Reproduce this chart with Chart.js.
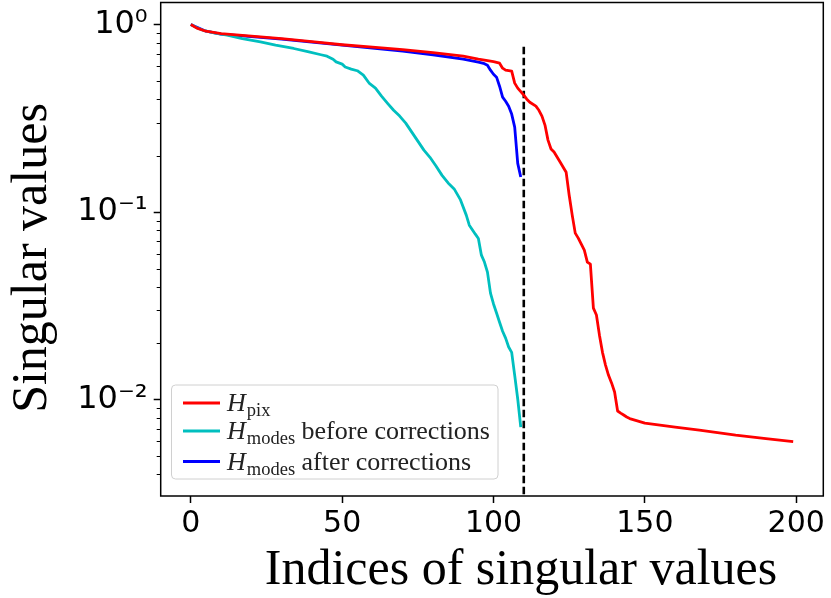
<!DOCTYPE html>
<html>
<head>
<meta charset="utf-8">
<script src="https://cdn.jsdelivr.net/npm/chart.js@4"></script>
<style>
  body { margin: 0; background: #fff; }
  #wrap { width: 831px; height: 598px; }
</style>
</head>
<body>
<div id="wrap"><canvas id="chart" width="831" height="598"></canvas></div>
<script>
// values (index -> singular value)
const pixIdx = [0, 2, 5, 10, 20, 30, 40, 50, 60, 70, 80, 90, 95, 98, 100, 102, 103, 104, 106, 107, 108, 110, 111, 112, 114, 115, 116, 117, 118, 119, 120, 122, 124, 125, 126, 127, 128, 129, 130, 131, 132, 133, 134, 135, 136, 137, 138, 139, 140, 141, 142, 143, 144, 145, 150, 160, 168, 180, 190, 199];
const pixVal = [1.0, 0.956, 0.921, 0.893, 0.866, 0.84, 0.81, 0.78, 0.757, 0.734, 0.708, 0.678, 0.653, 0.641, 0.634, 0.622, 0.585, 0.571, 0.564, 0.487, 0.458, 0.42, 0.4, 0.385, 0.367, 0.349, 0.325, 0.291, 0.242, 0.217, 0.209, 0.185, 0.163, 0.123, 0.0964, 0.0773, 0.0727, 0.0675, 0.0627, 0.0542, 0.0528, 0.0308, 0.0283, 0.0221, 0.0179, 0.0153, 0.0135, 0.0123, 0.011, 0.00871, 0.00849, 0.00829, 0.00809, 0.00794, 0.00751, 0.00715, 0.00689, 0.00648, 0.00621, 0.00599];

const beforeIdx = [0, 2, 4, 8, 12, 17, 23, 28, 34, 39, 43, 45, 47, 48, 50, 51, 53, 55, 57, 59, 61, 63, 65, 67, 69, 71, 73, 75, 77, 79, 81, 83, 85, 87, 89, 91, 92, 94, 95, 96, 97, 98, 99, 100, 101, 102, 103, 104, 105, 106, 107, 108, 109];
const beforeVal = [1.0, 0.961, 0.932, 0.899, 0.877, 0.84, 0.808, 0.776, 0.745, 0.714, 0.69, 0.678, 0.653, 0.632, 0.615, 0.594, 0.578, 0.567, 0.537, 0.485, 0.458, 0.415, 0.38, 0.349, 0.325, 0.298, 0.267, 0.239, 0.214, 0.196, 0.176, 0.157, 0.143, 0.133, 0.117, 0.0964, 0.0852, 0.0763, 0.0724, 0.059, 0.0542, 0.0479, 0.037, 0.0324, 0.029, 0.0259, 0.0232, 0.0213, 0.0191, 0.0179, 0.0135, 0.0101, 0.00715];

const afterIdx = [0, 5, 10, 20, 30, 40, 50, 60, 70, 80, 90, 95, 97, 98, 99, 100, 101, 102, 103, 104, 105, 106, 107, 108, 109];
const afterVal = [1.0, 0.921, 0.888, 0.861, 0.835, 0.805, 0.776, 0.748, 0.721, 0.69, 0.653, 0.63, 0.618, 0.607, 0.571, 0.543, 0.524, 0.469, 0.41, 0.39, 0.367, 0.333, 0.284, 0.182, 0.154];

const cutIndex = 110;
const cutTop = 0.76;

const xTicks = [0, 50, 100, 150, 200];
const yTicks = [1, 0.1, 0.01];
const yTickLabels = ['10⁰', '10⁻¹', '10⁻²'];

const xTitle = 'Indices of singular values';
const yTitle = 'Singular values';

const legendSubs = ['pix', 'modes', 'modes'];
const legendTexts = ['', ' before corrections', ' after corrections'];
const colors = ['#ff0000', '#00bfbf', '#0000ff'];

const toPoints = (xs, ys) => xs.map((x, i) => ({ x, y: ys[i] }));

const line = (data, color) => ({
  data,
  borderColor: color,
  borderWidth: 2.8,
  pointRadius: 0,
  tension: 0,
  borderJoinStyle: 'round',
});

const yMin = 0.00307;
const yMax = 1.31;

// box, minor ticks, axis titles and legend
const extras = {
  id: 'extras',
  afterDraw(chart) {
    const { ctx, chartArea: a } = chart;
    const y = chart.scales.y;
    ctx.save();

    // minor log ticks
    ctx.strokeStyle = '#000';
    ctx.lineWidth = 1;
    for (let d = 0.001; d < 1; d *= 10) {
      for (let m = 2; m <= 9; m++) {
        const v = m * d;
        if (v < yMin || v > yMax) continue;
        const py = Math.round(y.getPixelForValue(v)) + 0.5;
        ctx.beginPath();
        ctx.moveTo(a.left - 4, py);
        ctx.lineTo(a.left, py);
        ctx.stroke();
      }
    }

    // frame
    ctx.lineWidth = 1.5;
    ctx.strokeRect(a.left, a.top, a.right - a.left, a.bottom - a.top);

    // axis titles
    ctx.fillStyle = '#000';
    ctx.font = '50px "Liberation Serif"';
    ctx.textAlign = 'center';
    ctx.textBaseline = 'alphabetic';
    ctx.fillText(xTitle, 521, 584);
    ctx.translate(46, 258);
    ctx.rotate(-Math.PI / 2);
    ctx.fillText(yTitle, 0, 0);
    ctx.setTransform(1, 0, 0, 1, 0, 0);

    // legend
    const bx = 171.5, by = 385, bw = 326.5, bh = 94;
    ctx.beginPath();
    ctx.roundRect(bx, by, bw, bh, 4);
    ctx.fillStyle = 'rgba(255,255,255,0.8)';
    ctx.fill();
    ctx.strokeStyle = '#d0d0d0';
    ctx.lineWidth = 1;
    ctx.stroke();

    const rows = [403, 431, 461.5];
    ctx.textAlign = 'left';
    rows.forEach((ry, i) => {
      ctx.strokeStyle = colors[i];
      ctx.lineWidth = 2.8;
      ctx.beginPath();
      ctx.moveTo(183, ry);
      ctx.lineTo(220, ry);
      ctx.stroke();

      let tx = 227;
      const base = ry + 8;
      ctx.fillStyle = '#222';
      ctx.font = 'italic 26px "Liberation Serif"';
      ctx.fillText('H', tx, base);
      tx += ctx.measureText('H').width + 1;
      ctx.font = '18.5px "Liberation Serif"';
      ctx.fillText(legendSubs[i], tx, base + 5);
      tx += ctx.measureText(legendSubs[i]).width;
      ctx.font = '26px "Liberation Serif"';
      ctx.fillText(legendTexts[i], tx, base);
    });

    ctx.restore();
  },
};

new Chart(document.getElementById('chart'), {
  type: 'line',
  data: {
    datasets: [
      line(toPoints(pixIdx, pixVal), colors[0]),
      line(toPoints(beforeIdx, beforeVal), colors[1]),
      line(toPoints(afterIdx, afterVal), colors[2]),
      {
        data: [{ x: cutIndex, y: cutTop }, { x: cutIndex, y: yMin }],
        borderColor: '#000',
        borderWidth: 2.6,
        borderDash: [7.5, 3.5],
        pointRadius: 0,
      },
    ],
  },
  options: {
    responsive: false,
    animation: false,
    devicePixelRatio: 1,
    layout: { padding: { top: 2.5, right: 7.7, bottom: 0, left: 0 } },
    plugins: { legend: { display: false }, tooltip: { enabled: false } },
    scales: {
      x: {
        type: 'linear',
        min: -9.95,
        max: 208.95,
        afterBuildTicks: (s) => { s.ticks = xTicks.map((v) => ({ value: v })); },
        afterFit: (s) => { s.height = 102; s.paddingLeft = 0; s.paddingRight = 0; },
        border: { display: false },
        grid: { drawOnChartArea: false, tickLength: 7, tickColor: '#000', tickWidth: 1.5 },
        ticks: { color: '#000', padding: 3, maxRotation: 0, font: { family: 'DejaVu Sans', size: 30 } },
      },
      y: {
        type: 'logarithmic',
        min: yMin,
        max: yMax,
        afterBuildTicks: (s) => { s.ticks = yTicks.map((v) => ({ value: v })); },
        afterFit: (s) => { s.width = 160.7; s.paddingTop = 0; s.paddingBottom = 0; },
        border: { display: false },
        grid: { drawOnChartArea: false, tickLength: 7, tickColor: '#000', tickWidth: 1.5 },
        ticks: {
          color: '#000',
          padding: 6,
          font: { family: 'DejaVu Sans', size: 32 },
          callback: (v) => yTickLabels[yTicks.indexOf(v)] ?? '',
        },
      },
    },
  },
  plugins: [extras],
});
</script>
</body>
</html>
